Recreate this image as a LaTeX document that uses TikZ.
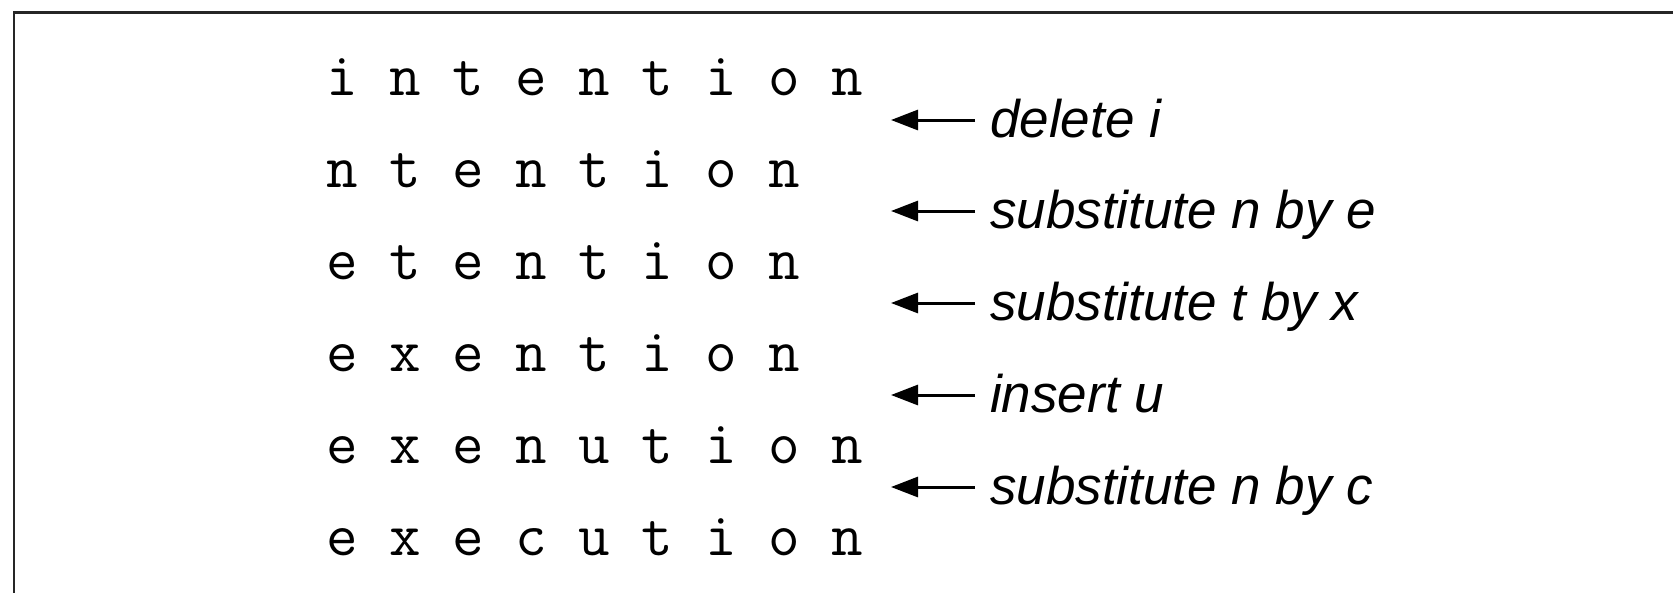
\documentclass[tikz,border=0pt]{standalone}
\usepackage{fontspec}
\newfontfamily\labfont{Liberation Sans}
\usetikzlibrary{arrows.meta}
\tikzset{
  word/.style={anchor=base west, inner sep=0pt, font=\ttfamily\fontsize{61.3}{70}\selectfont},
  oplabel/.style={anchor=base west, inner sep=0pt, font=\labfont\itshape\fontsize{53}{60}\selectfont},
  oparrow/.style={line width=3pt, -{Triangle[length=27pt,width=20pt]}},
  frame/.style={line width=2.2pt, draw=black!85}
}
\begin{document}
\begin{tikzpicture}[x=1pt,y=-1pt]
\useasboundingbox (0,0) rectangle (1673,592);
\draw[frame] (14,600) -- (14,12.5) -- (1680,12.5);
% words
\node[word] (w1) at (326,95)  {i n t e n t i o n};
\node[word] (w2) at (326,187) {n t e n t i o n};
\node[word] (w3) at (326,279) {e t e n t i o n};
\node[word] (w4) at (326,371) {e x e n t i o n};
\node[word] (w5) at (326,463) {e x e n u t i o n};
\node[word] (w6) at (326,555) {e x e c u t i o n};
% labels
\node[oplabel] (l1) at (990,137) {delete i};
\node[oplabel] (l2) at (990,228) {substitute n by e};
\node[oplabel] (l3) at (990,320) {substitute t by x};
\node[oplabel] (l4) at (990,412) {insert u};
\node[oplabel] (l5) at (990,504) {substitute n by c};
% arrows
\foreach \i/\y in {1/120,2/211,3/303,4/395,5/487}{
  \coordinate (s\i) at (975,\y);
  \coordinate (e\i) at (891,\y);
  \draw[oparrow] (s\i) -- (e\i);
}
\end{tikzpicture}
\end{document}
